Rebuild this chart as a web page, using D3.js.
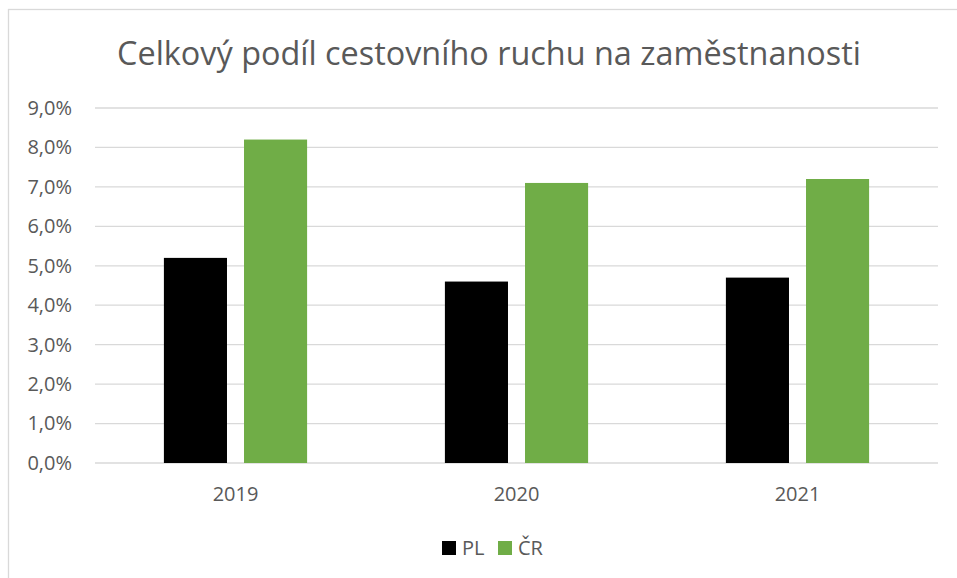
<!DOCTYPE html>
<html>
  <head>
    <meta charset="utf-8">
    <title>Celkový podíl cestovního ruchu na zaměstnanosti</title>
    <script src="https://d3js.org/d3.v7.min.js"></script>
    <style>
      body { margin: 0; background: #fff; }
      text { font-family: "Open Sans", "Noto Sans", sans-serif; fill: #595959; }
    </style>
  </head>
  <body>
    <script>
      // Data
      var years = ["2019", "2020", "2021"];
      var seriesNames = ["PL", "ČR"];
      var plValues = [5.2, 4.6, 4.7];
      var crValues = [8.2, 7.1, 7.2];
      var yTicks = [0, 1, 2, 3, 4, 5, 6, 7, 8, 9];
      var colors = ["#000000", "#70ad47"];

      var W = 957, H = 578;
      var margin = {top: 108, right: 19, bottom: 115, left: 95};
      var width = W - margin.left - margin.right;
      var height = H - margin.top - margin.bottom;

      var svg = d3.select("body")
                  .append("svg")
                  .attr("width", W)
                  .attr("height", H);

      // chart frame (bottom and right sides fall outside the picture)
      svg.append("rect")
         .attr("x", 8.5)
         .attr("y", 9.5)
         .attr("width", 960)
         .attr("height", 600)
         .attr("fill", "none")
         .attr("stroke", "#d9d9d9")
         .attr("stroke-width", 1.3);

      var g = svg.append("g")
                 .attr("transform", "translate(" + margin.left + "," + margin.top + ")");

      var x = d3.scaleBand()
                .domain(years)
                .range([0, width]);

      var x1 = d3.scaleBand()
                 .domain(seriesNames)
                 .range([0, x.bandwidth()])
                 .paddingInner(0.2125)
                 .paddingOuter(0.86);

      var y = d3.scaleLinear()
                .domain([0, 9])
                .range([height, 0]);

      // gridlines
      g.selectAll(".grid")
       .data(yTicks)
       .enter()
       .append("line")
       .attr("x1", 0)
       .attr("x2", width)
       .attr("y1", function(d) { return y(d); })
       .attr("y2", function(d) { return y(d); })
       .attr("stroke", "#d9d9d9")
       .attr("stroke-width", 1.3);

      // y axis labels
      var yAxis = d3.axisLeft(y)
                    .tickValues(yTicks)
                    .tickSize(0)
                    .tickPadding(23)
                    .tickFormat(function(d) { return d.toFixed(1).replace(".", ",") + "%"; });
      var ya = g.append("g").call(yAxis);
      ya.select(".domain").remove();
      ya.selectAll("text").style("font-size", "20px").attr("fill", "#595959");

      // x axis labels
      var xAxis = d3.axisBottom(x).tickSize(0).tickPadding(24);
      var xa = g.append("g")
                .attr("transform", "translate(0," + height + ")")
                .call(xAxis);
      xa.select(".domain").remove();
      xa.selectAll("text").style("font-size", "20px").attr("fill", "#595959");

      // bars
      var rows = years.map(function(yr, i) {
        return [{year: yr, s: "PL", v: plValues[i]}, {year: yr, s: "ČR", v: crValues[i]}];
      });

      g.selectAll(".yr")
       .data(rows)
       .enter()
       .append("g")
       .attr("transform", function(d) { return "translate(" + x(d[0].year) + ",0)"; })
       .selectAll("rect")
       .data(function(d) { return d; })
       .enter()
       .append("rect")
       .attr("x", function(d) { return x1(d.s); })
       .attr("width", x1.bandwidth())
       .attr("y", function(d) { return y(d.v); })
       .attr("height", function(d) { return height - y(d.v); })
       .attr("fill", function(d, i) { return colors[i]; });

      // title
      svg.append("text")
         .attr("x", 489)
         .attr("y", 65)
         .attr("text-anchor", "middle")
         .style("font-size", "32.4px")
         .text("Celkový podíl cestovního ruchu na zaměstnanosti");

      // legend
      var legendX = [442, 498];
      var legend = svg.selectAll(".legend")
                      .data(seriesNames)
                      .enter()
                      .append("g")
                      .attr("transform", function(d, i) { return "translate(" + legendX[i] + ",541)"; });
      legend.append("rect")
            .attr("width", 14)
            .attr("height", 14)
            .attr("fill", function(d, i) { return colors[i]; });
      legend.append("text")
            .attr("x", 20)
            .attr("y", 14)
            .style("font-size", "20px")
            .text(function(d) { return d; });
    </script>
  </body>
</html>
